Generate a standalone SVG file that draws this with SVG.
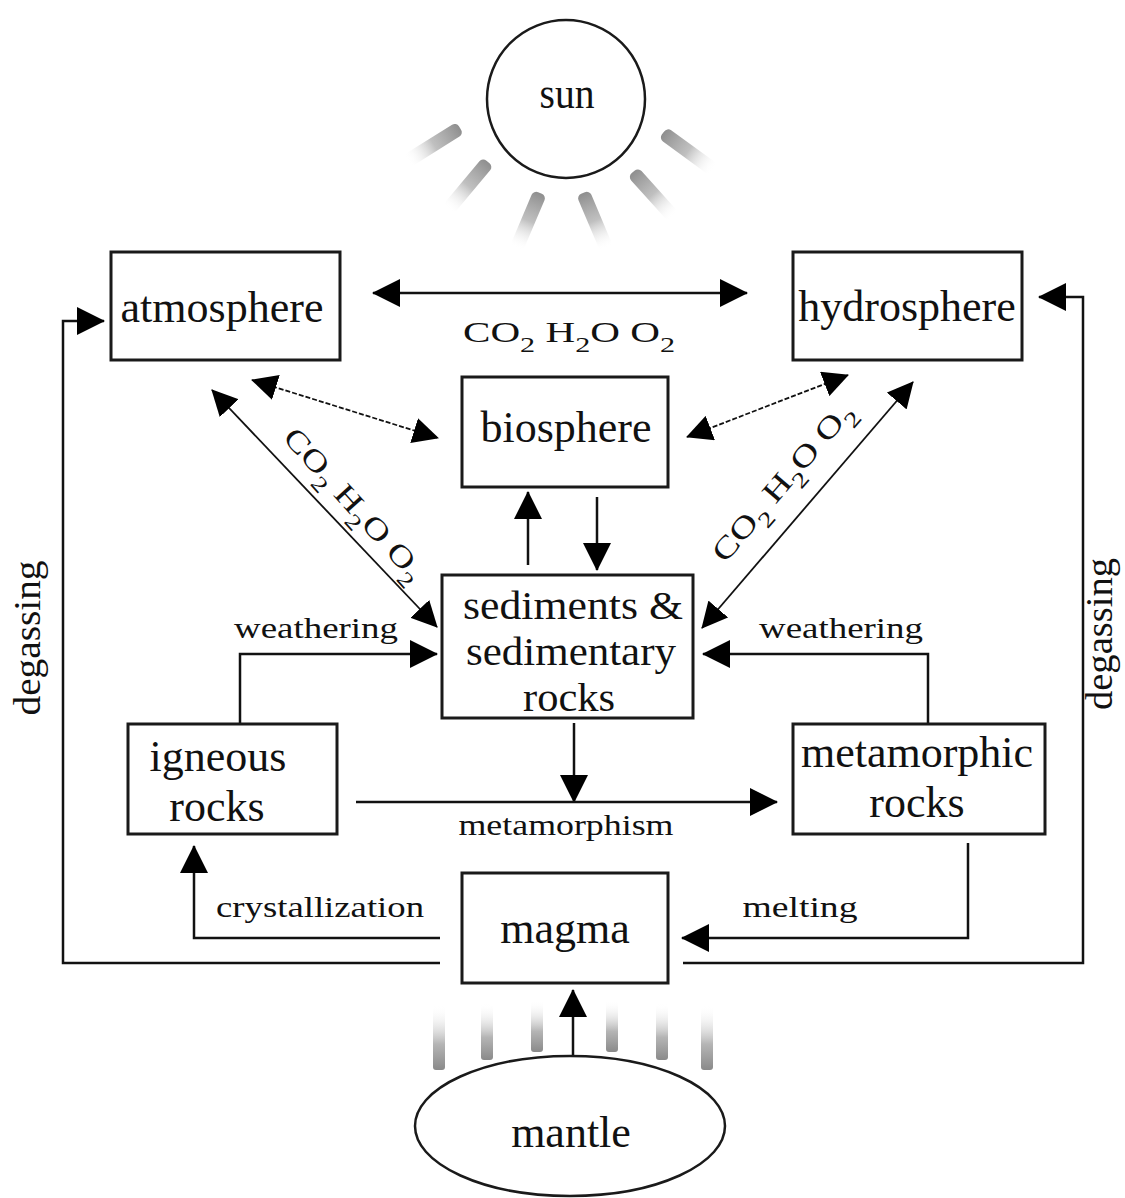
<svg xmlns="http://www.w3.org/2000/svg" width="1125" height="1198" viewBox="0 0 1125 1198">
<style>
.box{fill:#fff;stroke:#1a1a1a;stroke-width:3}
.lbl{font-family:"Liberation Serif","Times New Roman",serif;font-size:44px;fill:#111;text-anchor:middle}
.sed{font-size:41px}
.el{font-family:"Liberation Serif","Times New Roman",serif;font-size:30px;fill:#111;text-anchor:middle}
.deg{font-family:"Liberation Serif","Times New Roman",serif;font-size:37px;fill:#111;text-anchor:middle}
.sub{font-size:22px}
.ln{fill:none;stroke:#111;stroke-width:2.5}
.thin{fill:none;stroke:#111;stroke-width:1.8}
.dash{stroke-dasharray:5 2}
</style>
<defs>
<marker id="ah" viewBox="0 0 28 28" markerWidth="28" markerHeight="28" refX="27" refY="14" orient="auto-start-reverse" markerUnits="userSpaceOnUse"><path d="M0,0 L28,14 L0,28 z" fill="#000"/></marker>
<marker id="ahs" viewBox="0 0 26 26" markerWidth="26" markerHeight="26" refX="25" refY="13" orient="auto-start-reverse" markerUnits="userSpaceOnUse"><path d="M0,0 L26,13 L0,26 z" fill="#000"/></marker>
<linearGradient id="rayG" x1="0" y1="0" x2="1" y2="0">
<stop offset="0" stop-color="#8e8e8e"/>
<stop offset="0.5" stop-color="#b0b0b0" stop-opacity="0.8"/>
<stop offset="1" stop-color="#ffffff" stop-opacity="0"/>
</linearGradient>
<linearGradient id="mrG" x1="0" y1="0" x2="0" y2="1">
<stop offset="0" stop-color="#ffffff" stop-opacity="0"/>
<stop offset="0.6" stop-color="#b5b5b5"/>
<stop offset="1" stop-color="#8a8a8a"/>
</linearGradient>
</defs>
<rect width="1125" height="1198" fill="#fff"/>

<g id="sun-rays">
<rect x="0" y="-7" width="62" height="14" rx="5" fill="url(#rayG)" transform="translate(460,128) rotate(148)"/>
<rect x="0" y="-7" width="62" height="14" rx="5" fill="url(#rayG)" transform="translate(488,162) rotate(130)"/>
<rect x="0" y="-7" width="60" height="14" rx="5" fill="url(#rayG)" transform="translate(540,193) rotate(113)"/>
<rect x="0" y="-7" width="60" height="14" rx="5" fill="url(#rayG)" transform="translate(583,193) rotate(67)"/>
<rect x="0" y="-7" width="60" height="14" rx="5" fill="url(#rayG)" transform="translate(633,172) rotate(48)"/>
<rect x="0" y="-7" width="62" height="14" rx="5" fill="url(#rayG)" transform="translate(663,133) rotate(36)"/>
</g>
<g id="mantle-rays">
<rect x="433" y="1005" width="12" height="65" rx="3" fill="url(#mrG)"/>
<rect x="481" y="1003" width="12" height="57" rx="3" fill="url(#mrG)"/>
<rect x="531" y="1000" width="12" height="52" rx="3" fill="url(#mrG)"/>
<rect x="606" y="1000" width="12" height="52" rx="3" fill="url(#mrG)"/>
<rect x="656" y="1003" width="12" height="57" rx="3" fill="url(#mrG)"/>
<rect x="701" y="1005" width="12" height="65" rx="3" fill="url(#mrG)"/>
</g>

<g id="connectors">
<path class="ln" d="M373,293 H747" marker-start="url(#ah)" marker-end="url(#ah)"/>
<path class="thin dash" d="M252,380 L438,438" marker-start="url(#ahs)" marker-end="url(#ahs)"/>
<path class="thin" d="M212,390 L437,627" marker-start="url(#ahs)" marker-end="url(#ahs)"/>
<path class="thin dash" d="M848,375 L687,437" marker-start="url(#ahs)" marker-end="url(#ahs)"/>
<path class="thin" d="M913,382 L702,628" marker-start="url(#ahs)" marker-end="url(#ahs)"/>
<path class="ln" d="M528,565 V492" marker-end="url(#ah)"/>
<path class="ln" d="M597,497 V570" marker-end="url(#ah)"/>
<path class="ln" d="M240,723 V654 H437" marker-end="url(#ah)"/>
<path class="ln" d="M928,724 V654 H703" marker-end="url(#ah)"/>
<path class="ln" d="M574,723 V802" marker-end="url(#ah)"/>
<path class="ln" d="M356,802 H777" marker-end="url(#ah)"/>
<path class="ln" d="M968,843 V938 H682" marker-end="url(#ah)"/>
<path class="ln" d="M440,938 H194 V846" marker-end="url(#ah)"/>
<path class="ln" d="M440,963 H63 V321 H104" marker-end="url(#ah)"/>
<path class="ln" d="M683,963 H1083 V297 H1039" marker-end="url(#ah)"/>
<path class="ln" d="M573,1056 V990" marker-end="url(#ah)"/>

<text class="el" x="569" y="342" textLength="212" lengthAdjust="spacingAndGlyphs">CO<tspan class="sub" dy="10">2</tspan><tspan dy="-10"> H</tspan><tspan class="sub" dy="10">2</tspan><tspan dy="-10">O O</tspan><tspan class="sub" dy="10">2</tspan></text>
<text class="el" transform="translate(347,511) rotate(48)" textLength="195" lengthAdjust="spacingAndGlyphs">CO<tspan class="sub" dy="10">2</tspan><tspan dy="-10"> H</tspan><tspan class="sub" dy="10">2</tspan><tspan dy="-10">O O</tspan><tspan class="sub" dy="10">2</tspan></text>
<text class="el" transform="translate(790,488) rotate(-49.4)" textLength="200" lengthAdjust="spacingAndGlyphs">CO<tspan class="sub" dy="10">2</tspan><tspan dy="-10"> H</tspan><tspan class="sub" dy="10">2</tspan><tspan dy="-10">O O</tspan><tspan class="sub" dy="10">2</tspan></text>
<text class="el" x="316" y="638" textLength="164" lengthAdjust="spacingAndGlyphs">weathering</text>
<text class="el" x="841" y="638" textLength="164" lengthAdjust="spacingAndGlyphs">weathering</text>
<text class="el" x="566" y="835" textLength="215" lengthAdjust="spacingAndGlyphs">metamorphism</text>
<text class="el" x="320" y="917" textLength="208" lengthAdjust="spacingAndGlyphs">crystallization</text>
<text class="el" x="800" y="917" textLength="115" lengthAdjust="spacingAndGlyphs">melting</text>
<text class="deg" transform="translate(40,638) rotate(-90)" textLength="155" lengthAdjust="spacingAndGlyphs">degassing</text>
<text class="deg" transform="translate(1112,634) rotate(-90)" textLength="152" lengthAdjust="spacingAndGlyphs">degassing</text>
</g>

<g id="sun">
<circle cx="566" cy="99" r="79" fill="#fff" stroke="#1a1a1a" stroke-width="2.5"/>
<text class="lbl" x="567" y="108" textLength="55" lengthAdjust="spacingAndGlyphs">sun</text>
</g>
<g id="atmosphere">
<rect class="box" x="111" y="252" width="229" height="108"/>
<text class="lbl" x="222" y="322">atmosphere</text>
</g>
<g id="hydrosphere">
<rect class="box" x="793" y="252" width="229" height="108"/>
<text class="lbl" x="907" y="321">hydrosphere</text>
</g>
<g id="biosphere">
<rect class="box" x="462" y="377" width="206" height="110"/>
<text class="lbl" x="566" y="442">biosphere</text>
</g>
<g id="sediments">
<rect class="box" x="442" y="575" width="251" height="143"/>
<text class="lbl sed" x="573" y="619" textLength="220" lengthAdjust="spacingAndGlyphs">sediments &amp;</text>
<text class="lbl sed" x="571" y="665" textLength="210" lengthAdjust="spacingAndGlyphs">sedimentary</text>
<text class="lbl sed" x="569" y="711" textLength="92" lengthAdjust="spacingAndGlyphs">rocks</text>
</g>
<g id="igneous">
<rect class="box" x="128" y="724" width="209" height="110"/>
<text class="lbl" x="218" y="771">igneous</text>
<text class="lbl" x="217" y="821">rocks</text>
</g>
<g id="metamorphic">
<rect class="box" x="793" y="724" width="252" height="110"/>
<text class="lbl" x="917" y="767">metamorphic</text>
<text class="lbl" x="917" y="817">rocks</text>
</g>
<g id="magma">
<rect class="box" x="462" y="873" width="206" height="110"/>
<text class="lbl" x="565" y="943">magma</text>
</g>
<g id="mantle">
<ellipse cx="570" cy="1126" rx="155" ry="70" fill="#fff" stroke="#1a1a1a" stroke-width="2.5"/>
<text class="lbl" x="571" y="1147">mantle</text>
</g>
</svg>
